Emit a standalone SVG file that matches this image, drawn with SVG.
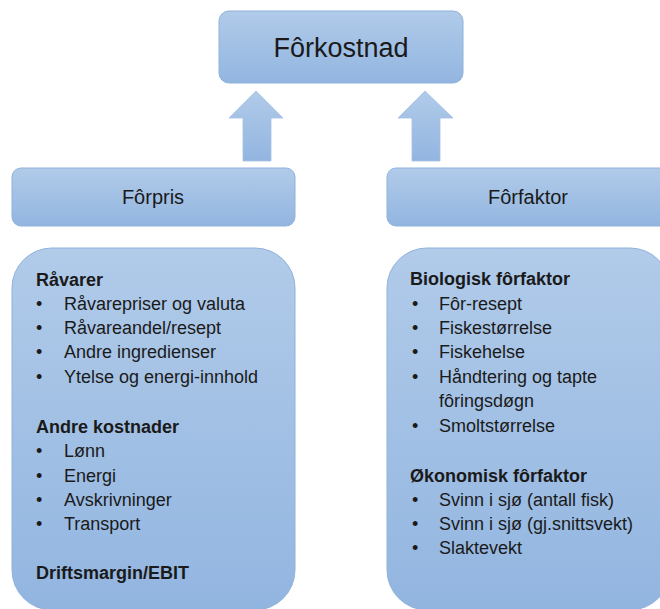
<svg xmlns="http://www.w3.org/2000/svg" width="660" height="609" viewBox="0 0 660 609">
<defs>
<linearGradient id="g" x1="0" y1="0" x2="0" y2="1">
<stop offset="0" stop-color="#b1cbe9"/>
<stop offset="1" stop-color="#92b5e0"/>
</linearGradient>
<style>
.box{fill:url(#g);stroke:#8fb2dc;stroke-width:1}
.arr{fill:url(#g);stroke:#a3c0e4;stroke-width:0.8}
text{font-family:"Liberation Sans",Arial,sans-serif;fill:#1a1a1a}
.t{font-size:18px}
.h{font-size:18px;font-weight:bold}
.title{font-size:27px;text-anchor:middle}
.sub{font-size:20px;text-anchor:middle}
</style>
</defs>
<rect width="660" height="609" fill="#ffffff"/>
<g id="connectors">
<polygon class="arr" points="256,91 283,118 271,118 271,161 243,161 243,118 229,118"/>
<polygon class="arr" points="425,91 453,118 440,118 440,161 412,161 412,118 398,118"/>
</g>
<g id="forkostnad">
<rect class="box" x="219" y="11" width="244" height="72" rx="10"/>
<text class="title" x="341" y="57">Fôrkostnad</text>
</g>
<g id="forpris">
<rect class="box" x="12" y="168" width="283" height="58" rx="9"/>
<text class="sub" x="153" y="204">Fôrpris</text>
</g>
<g id="forfaktor">
<rect class="box" x="387" y="168" width="283" height="58" rx="9"/>
<text class="sub" x="528" y="204">Fôrfaktor</text>
</g>
<g id="forpris-detail">
<rect class="box" x="12" y="248" width="283" height="362" rx="40"/>
<text class="h" x="36" y="286">Råvarer</text>
<text class="t" x="36" y="310">•</text><text class="t" x="64" y="310">Råvarepriser og valuta</text>
<text class="t" x="36" y="334">•</text><text class="t" x="64" y="334">Råvareandel/resept</text>
<text class="t" x="36" y="358">•</text><text class="t" x="64" y="358">Andre ingredienser</text>
<text class="t" x="36" y="383">•</text><text class="t" x="64" y="383">Ytelse og energi-innhold</text>
<text class="h" x="36" y="433">Andre kostnader</text>
<text class="t" x="36" y="457">•</text><text class="t" x="64" y="457">Lønn</text>
<text class="t" x="36" y="482">•</text><text class="t" x="64" y="482">Energi</text>
<text class="t" x="36" y="506">•</text><text class="t" x="64" y="506">Avskrivninger</text>
<text class="t" x="36" y="530">•</text><text class="t" x="64" y="530">Transport</text>
<text class="h" x="36" y="579">Driftsmargin/EBIT</text>
</g>
<g id="forfaktor-detail">
<rect class="box" x="387" y="248" width="283" height="362" rx="40"/>
<text class="h" x="410" y="285">Biologisk fôrfaktor</text>
<text class="t" x="412" y="310">•</text><text class="t" x="439" y="310">Fôr-resept</text>
<text class="t" x="412" y="334">•</text><text class="t" x="439" y="334">Fiskestørrelse</text>
<text class="t" x="412" y="358">•</text><text class="t" x="439" y="358">Fiskehelse</text>
<text class="t" x="412" y="383">•</text><text class="t" x="439" y="383">Håndtering og tapte</text>
<text class="t" x="439" y="407">fôringsdøgn</text>
<text class="t" x="412" y="432">•</text><text class="t" x="439" y="432">Smoltstørrelse</text>
<text class="h" x="410" y="482">Økonomisk fôrfaktor</text>
<text class="t" x="412" y="506">•</text><text class="t" x="439" y="506">Svinn i sjø (antall fisk)</text>
<text class="t" x="412" y="530">•</text><text class="t" x="439" y="530">Svinn i sjø (gj.snittsvekt)</text>
<text class="t" x="412" y="554">•</text><text class="t" x="439" y="554">Slaktevekt</text>
</g>
</svg>
